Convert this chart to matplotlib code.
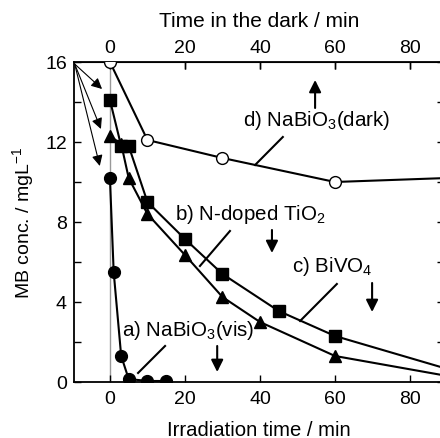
import matplotlib
matplotlib.use("Agg")
from matplotlib import pyplot as plt

plt.rcParams["font.family"] = ["Liberation Sans", "DejaVu Sans"]
plt.rcParams["mathtext.fontset"] = "custom"
plt.rcParams["mathtext.rm"] = "Liberation Sans"
plt.rcParams["mathtext.it"] = "Liberation Sans:italic"

# a) NaBiO3 under visible light
t_a = [0, 1, 3, 5, 10, 15]
c_a = [10.2, 5.5, 1.3, 0.15, 0.05, 0.05]

# b) N-doped TiO2
t_b = [0, 3, 5, 10, 20, 30, 40, 60, 90]
c_b = [12.3, 11.9, 10.2, 8.4, 6.35, 4.25, 3.0, 1.3, 0.3]

# c) BiVO4
t_c = [0, 3, 5, 10, 20, 30, 45, 60, 90]
c_c = [14.1, 11.8, 11.8, 9.0, 7.15, 5.4, 3.55, 2.3, 0.65]

# d) NaBiO3 in the dark
t_d = [0, 10, 30, 60, 90]
c_d = [16.0, 12.1, 11.2, 10.0, 10.2]

fig = plt.figure(figsize=(4.4, 4.39), dpi=100)
ax = fig.add_axes([0.168, 0.1276, 0.8405, 0.7289])

ax.axvline(0, color="#999999", lw=1, zorder=1)

ms = 8.5
ax.plot(t_d, c_d, "-o", color="k", lw=1.5, ms=ms, mfc="white", mec="k", mew=1, zorder=3)
ax.plot(t_c, c_c, "-s", color="k", lw=1.5, ms=ms - 0.5, zorder=3)
ax.plot(t_b, c_b, "-^", color="k", lw=1.5, ms=ms, zorder=3)
ax.plot(t_a, c_a, "-o", color="k", lw=1.5, ms=ms, zorder=3)

ax.set_xlim(-9.6, 89)
ax.set_ylim(0, 16)
ax.set_xticks([0, 20, 40, 60, 80])
ax.set_yticks([0, 4, 8, 12, 16])
ax.set_yticks([2, 6, 10, 14], minor=True)
ax.tick_params(which="both", direction="in", length=5, width=1, labelsize=14,
               top=True, right=True, pad=5)
ax.tick_params(axis="x", pad=6)
for s in ax.spines.values():
    s.set_linewidth(1.3)

top = ax.secondary_xaxis("top")
top.set_xticks([0, 20, 40, 60, 80])
top.tick_params(direction="in", length=5, width=1, labelsize=14, pad=4)
top.set_xlabel("Time in the dark / min", fontsize=15, labelpad=10)

ax.set_xlabel("Irradiation time / min", fontsize=14.6, labelpad=9)
ax.set_ylabel("MB conc. / mgL$^{-1}$", fontsize=14, labelpad=7)

# arrows from initial concentration
for end in [(-2.1, 14.65), (-2.4, 12.65), (-2.7, 10.8)]:
    ax.annotate("", xy=end, xytext=(-9.4, 15.9),
                arrowprops=dict(arrowstyle="-|>", lw=0.8, color="k", mutation_scale=16,
                                shrinkA=0, shrinkB=0))

fs = 14.8
ax.text(35.5, 13.1, "d) NaBiO$_3$(dark)", fontsize=fs, va="center")
ax.plot([46.1, 38.7], [12.25, 10.85], color="k", lw=1.5)
ax.annotate("", xy=(54.7, 15.1), xytext=(54.7, 13.7),
            arrowprops=dict(arrowstyle="-|>", lw=1.5, color="k", mutation_scale=18,
                            shrinkA=0, shrinkB=0))

ax.text(17.4, 8.4, "b) N-doped TiO$_2$", fontsize=fs, va="center")
ax.plot([32, 24], [7.55, 5.8], color="k", lw=1.5)
ax.annotate("", xy=(43.2, 6.45), xytext=(43.2, 7.6),
            arrowprops=dict(arrowstyle="-|>", lw=1.5, color="k", mutation_scale=18,
                            shrinkA=0, shrinkB=0))

ax.text(48.6, 5.8, "c) BiVO$_4$", fontsize=fs, va="center")
ax.plot([60.5, 50.7], [4.9, 3.05], color="k", lw=1.5)
ax.annotate("", xy=(69.9, 3.5), xytext=(69.9, 4.95),
            arrowprops=dict(arrowstyle="-|>", lw=1.5, color="k", mutation_scale=18,
                            shrinkA=0, shrinkB=0))

ax.text(3.2, 2.6, "a) NaBiO$_3$(vis)", fontsize=fs, va="center")
ax.plot([14.7, 7.5], [1.8, 0.45], color="k", lw=1.5)
ax.annotate("", xy=(28.6, 0.5), xytext=(28.6, 1.8),
            arrowprops=dict(arrowstyle="-|>", lw=1.5, color="k", mutation_scale=18,
                            shrinkA=0, shrinkB=0))

fig.savefig("out.png", dpi=100)
